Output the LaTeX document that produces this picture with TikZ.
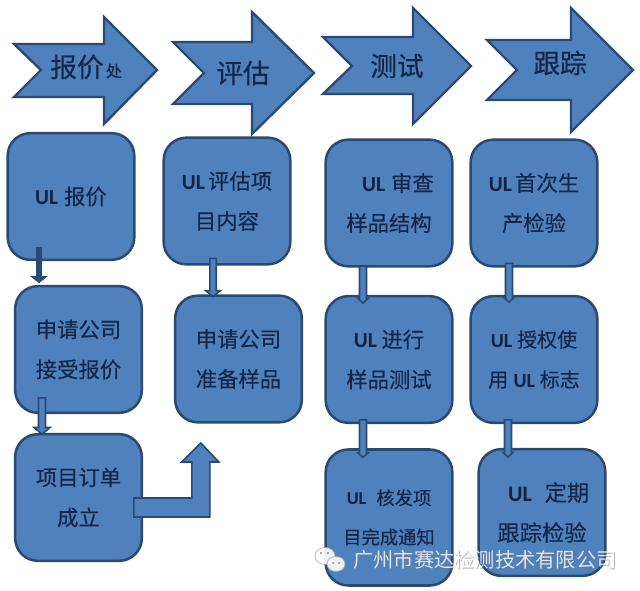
\documentclass[tikz,border=0pt]{standalone}
\usepackage{fontspec}
\usetikzlibrary{calc}
\setmainfont{Noto Sans CJK SC}
\newfontfamily\ulfont{Carlito}
\newfontfamily\headfont[FakeBold=0.5]{Noto Sans CJK SC}
\newfontfamily\bodyfont[FakeBold=0.25]{Noto Sans CJK SC}
\definecolor{fillblue}{HTML}{4F81BD}
\definecolor{edgeblue}{HTML}{2A4A72}
\definecolor{inkblue}{HTML}{14264A}
\newcommand{\UL}{{\ulfont\bfseries\color{inkblue!90!black}UL}}
\newcommand{\gp}[1]{\hspace*{#1pt}}
\tikzset{
  x=0.75pt,y=-0.75pt,
  flowbox/.style={draw=edgeblue,fill=fillblue,line width=1.9pt,rounded corners=17pt,inner sep=0pt,outer sep=0pt,
    minimum width=95pt,minimum height=95pt,text=inkblue,align=center,font=\bodyfont\fontsize{16}{30}\selectfont},
  smallbox/.style={flowbox,font=\bodyfont\fontsize{13.7}{29.5}\selectfont},
  headarrow/.style={draw=edgeblue,fill=fillblue,line width=1.8pt,line join=miter,miter limit=3},
  headtext/.style={text=inkblue,font=\headfont\fontsize{20}{24}\selectfont,inner sep=0pt},
  linkarrow/.style={draw=edgeblue,fill=fillblue,line width=1.2pt,line join=miter},
  darklink/.style={linkarrow,fill=edgeblue},
  marktext/.style={text=white,opacity=.8,font=\fontsize{15.2}{18}\selectfont,inner sep=0pt,anchor=west},
  markshadow/.style={marktext,text=black!55,opacity=.5},
  bubble/.style={draw=black!35,line width=.5pt,fill=white,opacity=.9}
}
% #1 style, #2 from node, #3 to node, #4 x offset from source centre, #5 rise of the tail into the source,
% #6 overlap of the tip into the target, #7 half shaft, #8 half head, #9 head length (pt)
\newcommand{\dnarrow}[9]{%
  \coordinate (tailpt) at ($(#2.south)+(#4,-#5)$);
  \coordinate (tippt) at ($(tailpt |- #3.north)+(0,#6)$);
  \draw[#1] let \p1=(tailpt),\p2=(tippt) in
    (\x1-#7pt,\y1) -- (\x1+#7pt,\y1) -- (\x1+#7pt,\y2+#9pt) -- (\x1+#8pt,\y2+#9pt) -- (\x2,\y2)
    -- (\x1-#8pt,\y2+#9pt) -- (\x1-#7pt,\y2+#9pt) -- cycle;}
\begin{document}
\begin{tikzpicture}
\useasboundingbox (0,0) rectangle (640,591);
\fill[white] (0,0) rectangle (640,591);
% header arrows
\draw[headarrow] (14,44) -- (104,44) -- (104,17) -- (157,70) -- (104,124) -- (104,97) -- (14,97) -- (41,70) -- cycle;
\draw[headarrow] (173,42) -- (252,42) -- (252,12) -- (314,73) -- (252,134) -- (252,104) -- (173,104) -- (204,73) -- cycle;
\draw[headarrow] (323,37) -- (413,37) -- (413,8) -- (471,66) -- (413,124) -- (413,94) -- (323,94) -- (352,66) -- cycle;
\draw[headarrow] (487,40) -- (571,40) -- (571,8) -- (633,70) -- (571,132) -- (571,100) -- (487,100) -- (517,70) -- cycle;
\node[headtext] (h1) at (77,67) {报价};
\node[headtext,font=\headfont\fontsize{12}{14}\selectfont] (h1b) at (114,71) {处};
\node[headtext] (h2) at (243,73) {评估};
\node[headtext] (h3) at (397,66) {测试};
\node[headtext] (h4) at (560,63) {跟踪};
% boxes
\node[flowbox] (b1) at (71,196.5) {\UL\gp{4.5}报价};
\node[flowbox] (b2) at (78.5,349.5) {申请公司\\接受报价};
\node[flowbox] (b3) at (78.5,497.5) {项目订单\\成立};
\node[flowbox] (c1) at (227,201) {\UL\gp{2.5}评估项\\目内容};
\node[flowbox] (c2) at (238.5,359) {申请公司\\准备样品};
\node[flowbox] (d1) at (389,203) {\hspace*{13.5pt}\UL\gp{4.5}审查\\样品结构};
\node[flowbox] (d2) at (389,359.5) {\UL\gp{3.5}进行\\样品测试};
\node[smallbox,minimum height=102pt] (d3) at (389,517.5) {\UL\gp{7.5}核发项\\目完成通知};
\node[flowbox] (e1) at (534,203) {\UL\gp{2.5}首次生\\产检验};
\node[flowbox,font=\bodyfont\fontsize{15}{30}\selectfont] (e2) at (534,359.5) {\UL\gp{3.5}授权使\\用\gp{4}\UL\gp{3.5}标志};
\node[flowbox,font=\bodyfont\fontsize{16.7}{30}\selectfont] (e3) at (542,512.5) {\hspace*{10pt}\UL\gp{9.5}定期\\跟踪检验};
% links
\dnarrow{darklink}{b1}{b2}{-32}{12}{-4}{1.6}{5}{4}
\dnarrow{linkarrow}{b2}{b3}{-36.5}{15}{0}{2.6}{6}{5}
\dnarrow{linkarrow}{c1}{c2}{-14}{6}{1}{2.4}{5.5}{4.5}
\dnarrow{linkarrow}{d1}{d2}{-26}{0}{7}{2.6}{3.8}{3.5}
\dnarrow{linkarrow}{e1}{e2}{-25}{3}{6}{2.6}{3.8}{3.5}
\dnarrow{linkarrow}{d2}{d3}{-26}{3}{8}{2.6}{3.8}{3.5}
\dnarrow{linkarrow}{e2}{e3}{-26}{3}{8}{2.6}{3.8}{3.5}
\coordinate (bendstart) at ($(b3.east)+(-8,0.5)$);
\draw[linkarrow] (bendstart) -- ++(58,0) -- ++(0,-36) -- ++(-10,0) -- ++(19,-19) -- ++(18,19) -- ++(-9,0) -- ++(0,55) -- ++(-76,0) -- cycle;
% watermark
\draw[bubble] (325,556) ellipse (10 and 8.5);
\draw[bubble] (336,564) ellipse (9 and 7.5);
\fill[black!45] (321,553) circle (1.1) (328,553) circle (1.1) (333,563) circle (1) (339,563) circle (1);
\node[markshadow] (wmb) at (353.6,560.6) {广州市赛达检测技术有限公司};
\node[marktext] (wm) at (353,560) {广州市赛达检测技术有限公司};
\end{tikzpicture}
\end{document}
